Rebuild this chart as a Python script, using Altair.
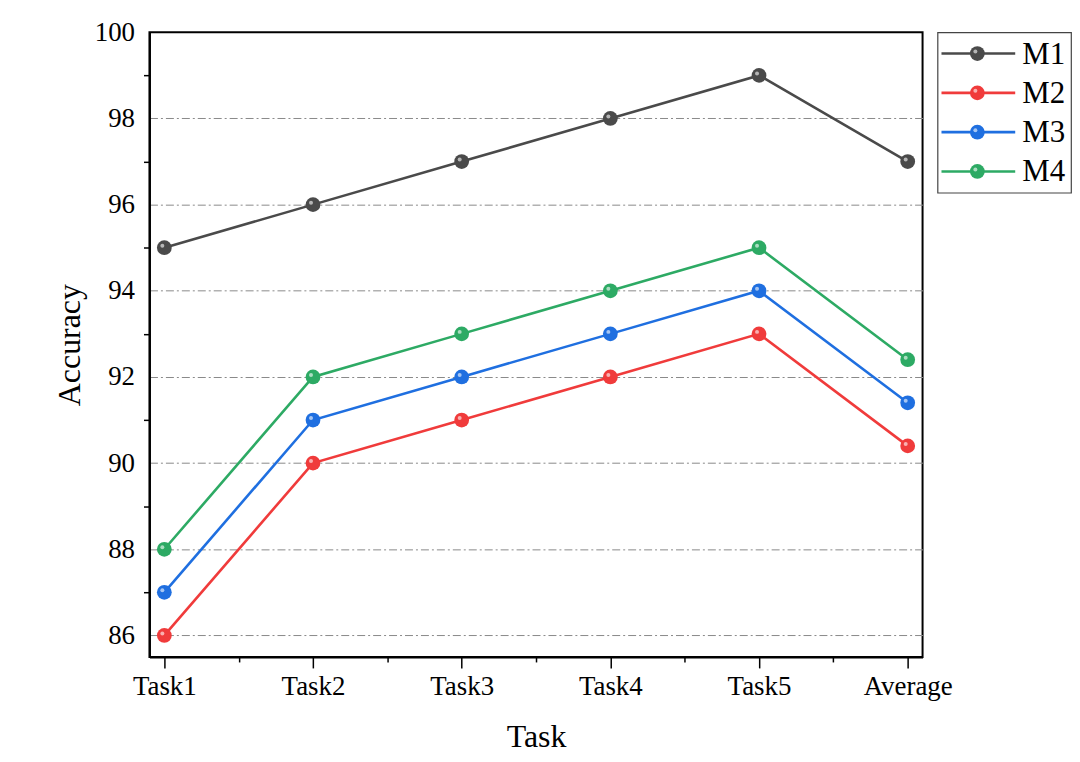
import json

import altair as alt
import pandas as pd

# values
tasks = ["Task1", "Task2", "Task3", "Task4", "Task5", "Average"]
models = ["M1", "M2", "M3", "M4"]
m1 = [95, 96, 97, 98, 99, 97]
m2 = [86, 90, 91, 92, 93, 90.4]
m3 = [87, 91, 92, 93, 94, 91.4]
m4 = [88, 92, 93, 94, 95, 92.4]
colors = ["#4a4a4a", "#f03b3b", "#1f6fe0", "#2daa64"]

FONT = "Liberation Serif"

rows = []
for name, vals in zip(models, [m1, m2, m3, m4]):
    for i, (t, v) in enumerate(zip(tasks, vals)):
        rows.append({"model": name, "idx": i, "task": t, "acc": v})
df = pd.DataFrame(rows)

color = alt.Color("model:N", scale=alt.Scale(domain=models, range=colors), legend=None)

x_enc = alt.X(
    "idx:Q",
    scale=alt.Scale(domain=[-0.1, 5.1], nice=False, zero=False),
    axis=alt.Axis(
        values=[i / 2 for i in range(11)],
        labelExpr=f"datum.value % 1 === 0 ? {json.dumps(tasks)}[datum.value] : ''",
        tickSize={"condition": {"test": "datum.value % 1 === 0", "value": 11}, "value": 5},
        grid=False,
        labelPadding=6,
        titlePadding=22,
        title="Task",
    ),
)
y_enc = alt.Y(
    "acc:Q",
    scale=alt.Scale(domain=[85.5, 100], nice=False, zero=False),
    axis=alt.Axis(
        values=list(range(86, 101)),
        labelExpr="datum.value % 2 === 0 ? datum.label : ''",
        tickOpacity={"condition": {"test": "datum.value % 2 === 1", "value": 1}, "value": 0},
        tickSize=6,
        labelPadding=9,
        grid=True,
        gridOpacity={
            "condition": {"test": "datum.value % 2 === 0 && datum.value < 100", "value": 1},
            "value": 0,
        },
        gridDash=[8, 3, 2, 3],
        gridColor="#8a8a8a",
        gridWidth=1,
        titlePadding=8,
        title="Accuracy",
    ),
)

base = alt.Chart(df).encode(x=x_enc, y=y_enc, color=color)
lines = base.mark_line(strokeWidth=2.6)
dots = base.mark_point(filled=True, size=220, opacity=1)
shine = base.mark_point(
    filled=True, size=16, opacity=0.6, xOffset=-2, yOffset=-2
).encode(color=alt.value("white"))

main = alt.layer(lines, dots, shine).properties(width=776, height=627)

# hand-made legend box: line + ball + label per model
leg_df = pd.DataFrame({"model": models})
ly = alt.Y("model:N", sort=models, axis=None, scale=alt.Scale(type="point", padding=0.54))
leg_base = alt.Chart(leg_df).encode(y=ly)
leg_rule = leg_base.mark_rule(strokeWidth=2.6).encode(
    x=alt.value(4), x2=alt.value(78), color=color
)
leg_dot = leg_base.mark_point(filled=True, size=220, opacity=1).encode(
    x=alt.value(40), color=color
)
leg_shine = leg_base.mark_point(
    filled=True, size=16, opacity=0.6, xOffset=-2, yOffset=-2
).encode(x=alt.value(40), color=alt.value("white"))
leg_text = leg_base.mark_text(
    align="left", baseline="middle", font=FONT, fontSize=31, color="black", dy=1
).encode(x=alt.value(85), text="model:N")

legend = alt.layer(leg_rule, leg_dot, leg_shine, leg_text).properties(
    width=134, height=161, view=alt.ViewBackground(stroke="#444444", strokeWidth=1.2)
)

chart = (
    alt.hconcat(main, legend, spacing=15, bounds="flush")
    .properties(padding={"left": 44, "top": 8, "right": 0, "bottom": 0})
    .configure_view(stroke="black", strokeWidth=2)
    .configure_axis(
        labelFont=FONT,
        labelFontSize=27,
        labelColor="black",
        titleFont=FONT,
        titleFontSize=32,
        titleFontWeight="normal",
        titleColor="black",
        domainColor="black",
        domainWidth=2,
        tickColor="black",
        tickWidth=1.5,
    )
)

chart.save("out.html", embed_options={"renderer": "svg", "actions": False})
